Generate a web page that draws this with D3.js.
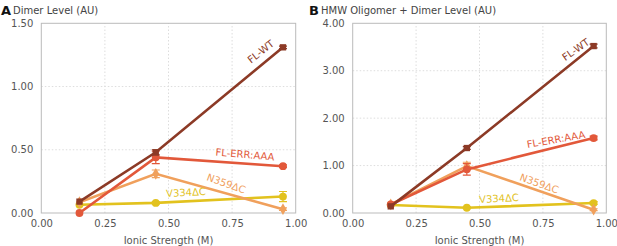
<!DOCTYPE html>
<html>
<head>
<meta charset="utf-8">
<script src="https://cdn.jsdelivr.net/npm/d3@7"></script>
<style>
  body { margin: 0; background: #fff; }
  svg { font-family: 'DejaVu Sans', sans-serif; }
</style>
</head>
<body>
<svg width="617" height="246"></svg>
<script>
const ionic = [0.15, 0.45, 0.95];
const seriesNames = ['FL-WT', 'FL-ERR:AAA', 'N359ΔC', 'V334ΔC'];
const colors = ['#8c3a26', '#e2583a', '#f0a05c', '#e2c21e'];
const markers = ['square', 'circle', 'diamond', 'circle'];

// panel A: dimer level
const dimerWT = [0.09, 0.48, 1.31];
const dimerERR = [0.0, 0.44, 0.37];
const dimerN359 = [0.085, 0.31, 0.03];
const dimerV334 = [0.065, 0.08, 0.13];
const dimerErr = [[0, 0.02, 0.01], [0, 0.05, 0.01], [0, 0.03, 0.01], [0, 0.01, 0.04]];

// panel B: HMW oligomer + dimer level
const hmwWT = [0.14, 1.37, 3.52];
const hmwERR = [0.18, 0.92, 1.58];
const hmwN359 = [0.18, 0.99, 0.07];
const hmwV334 = [0.17, 0.11, 0.21];
const hmwErr = [[0, 0.03, 0.04], [0, 0.12, 0.04], [0, 0.08, 0.02], [0, 0.02, 0.03]];

const xTicks = [0, 0.25, 0.5, 0.75, 1];
const yTicksA = [0, 0.5, 1, 1.5];
const yTicksB = [0, 1, 2, 3, 4];

const svg = d3.select('svg');

function drawPanel(opts) {
  const g = svg.append('g');
  const x = d3.scaleLinear().domain([0, 1]).range([opts.left, opts.right]);
  const y = d3.scaleLinear().domain([0, opts.ymax]).range([213, 23.3]);

  // letter and title
  g.append('text').attr('x', opts.letterX).attr('y', 15)
    .attr('font-size', 13).attr('font-weight', 'bold').attr('fill', '#111')
    .text(opts.letter);
  g.append('text').attr('x', opts.letterX + 12).attr('y', 14)
    .attr('font-size', 10).attr('fill', '#444')
    .text(opts.title);

  // grid
  g.selectAll('.hg').data(opts.yTicks.slice(1, -1)).join('line')
    .attr('x1', opts.left).attr('x2', opts.right)
    .attr('y1', d => y(d)).attr('y2', d => y(d))
    .attr('stroke', '#ddd').attr('stroke-dasharray', '1.5,2');
  g.selectAll('.vg').data(xTicks.slice(1, -1)).join('line')
    .attr('x1', d => x(d)).attr('x2', d => x(d))
    .attr('y1', y(0)).attr('y2', y(opts.ymax))
    .attr('stroke', '#ddd').attr('stroke-dasharray', '1.5,2');
  g.append('rect')
    .attr('x', opts.left).attr('y', y(opts.ymax))
    .attr('width', opts.right - opts.left).attr('height', y(0) - y(opts.ymax))
    .attr('fill', 'none').attr('stroke', '#bbb');

  // axes
  const xAxis = g.append('g').attr('transform', `translate(0,${y(0)})`)
    .call(d3.axisBottom(x).tickValues(xTicks).tickFormat(d3.format('.2f')).tickSize(0).tickPadding(7));
  const yAxis = g.append('g').attr('transform', `translate(${opts.left},0)`)
    .call(d3.axisLeft(y).tickValues(opts.yTicks).tickFormat(d3.format('.2f')).tickSize(0).tickPadding(8));
  [xAxis, yAxis].forEach(a => {
    a.select('.domain').remove();
    a.selectAll('text').attr('font-size', 10).attr('fill', '#555')
      .attr('font-family', "'DejaVu Sans', sans-serif");
  });
  g.append('text').attr('x', (opts.left + opts.right) / 2).attr('y', 244)
    .attr('text-anchor', 'middle').attr('font-size', 10).attr('fill', '#555')
    .text('Ionic Strength (M)');

  const line = d3.line().x((d, i) => x(ionic[i])).y(d => y(d));

  // draw back to front: V334, N359, ERR, WT
  [3, 2, 1, 0].forEach(k => {
    const vals = opts.series[k];
    const col = colors[k];
    g.append('path').datum(vals).attr('d', line)
      .attr('fill', 'none').attr('stroke', col).attr('stroke-width', 2.6);
    vals.forEach((v, i) => {
      const e = opts.err[k][i];
      if (e > 0) {
        const cx = x(ionic[i]);
        g.append('path')
          .attr('d', `M${cx},${y(v - e)}V${y(v + e)}M${cx - 4},${y(v - e)}H${cx + 4}M${cx - 4},${y(v + e)}H${cx + 4}`)
          .attr('stroke', col).attr('stroke-width', 1.2).attr('fill', 'none');
      }
    });
    const sym = markers[k] === 'square' ? d3.symbolSquare
      : markers[k] === 'diamond' ? d3.symbolDiamond : d3.symbolCircle;
    g.selectAll(null).data(vals).join('path')
      .attr('transform', (d, i) => `translate(${x(ionic[i])},${y(d)})`)
      .attr('d', d3.symbol().type(sym).size(markers[k] === 'circle' ? 48 : 40))
      .attr('fill', col);
  });

  // series labels
  opts.labels.forEach((lab, k) => {
    g.append('text')
      .attr('transform', `translate(${lab[0]},${lab[1]}) rotate(${lab[2]})`)
      .attr('text-anchor', 'middle').attr('dominant-baseline', 'middle')
      .attr('font-size', 10).attr('fill', colors[k])
      .text(seriesNames[k]);
  });
}

drawPanel({
  letter: 'A', letterX: 1, title: 'Dimer Level (AU)',
  left: 41.3, right: 295.7, ymax: 1.5, yTicks: yTicksA,
  series: [dimerWT, dimerERR, dimerN359, dimerV334], err: dimerErr,
  labels: [[261, 52, -38], [245, 155, 5], [226, 184, 20], [186, 193, -3]]
});

drawPanel({
  letter: 'B', letterX: 309, title: 'HMW Oligomer + Dimer Level (AU)',
  left: 352.7, right: 606.3, ymax: 4, yTicks: yTicksB,
  series: [hmwWT, hmwERR, hmwN359, hmwV334], err: hmwErr,
  labels: [[576, 50, -35], [556, 140, -10], [539, 184, 20], [499, 199, -3]]
});
</script>
</body>
</html>
